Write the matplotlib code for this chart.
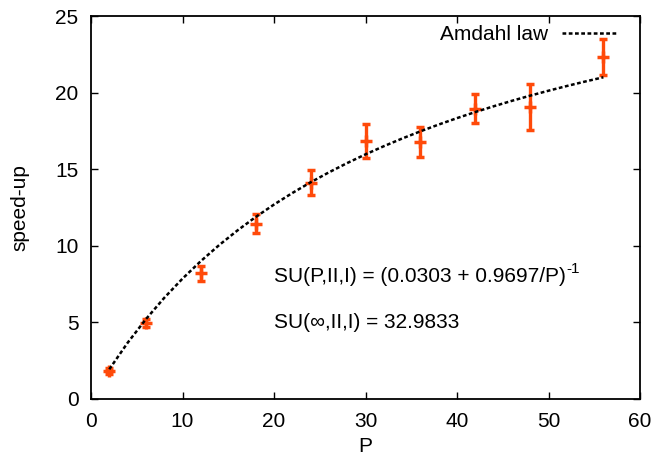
import matplotlib
matplotlib.use("Agg")
import matplotlib.pyplot as plt

plt.rcParams['font.family'] = ['Liberation Sans', 'DejaVu Sans']

# measured speed-up with error bars
procs = [2, 6, 12, 18, 24, 30, 36, 42, 48, 56]
speedup = [1.83, 4.96, 8.2, 11.45, 14.12, 16.84, 16.77, 18.95, 19.05, 22.34]
err = [0.2, 0.25, 0.5, 0.6, 0.8, 1.1, 0.97, 0.95, 1.48, 1.17]

# Amdahl fit curve, sampled
fit_p = [2, 4, 6, 8, 10, 12, 14, 16, 18, 20, 22, 24, 26, 28,
         30, 32, 34, 36, 38, 40, 42, 44, 46, 48, 50, 52, 54, 56]
fit_su = [1.941, 3.667, 5.211, 6.600, 7.857, 9.000, 10.044, 11.000,
          11.880, 12.693, 13.445, 14.143, 14.794, 15.401, 15.969, 16.501,
          17.001, 17.472, 17.915, 18.334, 18.731, 19.106, 19.463, 19.801,
          20.123, 20.430, 20.722, 21.001]

xticks = [0, 10, 20, 30, 40, 50, 60]
yticks = [0, 5, 10, 15, 20, 25]

fs = 15

fig = plt.figure(figsize=(6.7, 4.57), dpi=100)
ax = fig.add_axes([91/670, 1-399/457, (640-91)/670, (399-16)/457])

ax.errorbar(procs, speedup, yerr=err, fmt='+', color='#ff4a0a',
            ms=9, mew=2.5, elinewidth=2.4, capsize=3, capthick=2.3, zorder=3)
ax.plot(fit_p, fit_su, color='black', lw=1.8, ls=(0, (1.5, 1)),
        label='Amdahl law', zorder=4)

# fit formula, with a small "-1" exponent after it
t1 = ax.text(20, 8, 'SU(P,II,I) = (0.0303 + 0.9697/P)', fontsize=fs,
             va='center', ha='left')
ax.annotate('-1', xy=(1, 1), xycoords=t1, xytext=(0.5, 3.5),
            textcoords='offset points', fontsize=11, va='top', ha='left')
ax.text(20, 5, 'SU(\u221e,II,I) = 32.9833', fontsize=fs,
        va='center', ha='left')

ax.set_xlim(0, 60)
ax.set_ylim(0, 25)
ax.set_xticks(xticks)
ax.set_yticks(yticks)
ax.tick_params(direction='in', length=5, width=1, top=True, right=True,
               labelsize=fs)
ax.tick_params(axis='x', pad=9.5)
ax.tick_params(axis='y', pad=9)
for s in ax.spines.values():
    s.set_linewidth(1.3)
ax.set_xlabel('P', fontsize=fs)
ax.set_ylabel('speed-up', fontsize=fs)
ax.xaxis.set_label_coords(0.5, -0.1)
ax.yaxis.set_label_coords(-0.113, 0.5)

leg = ax.legend(loc='upper right', bbox_to_anchor=(0.958, 0.977),
                frameon=False, fontsize=fs, handlelength=2.64,
                markerfirst=False, borderaxespad=0, borderpad=0,
                handletextpad=0.67)

fig.savefig('out.png', dpi=100)
